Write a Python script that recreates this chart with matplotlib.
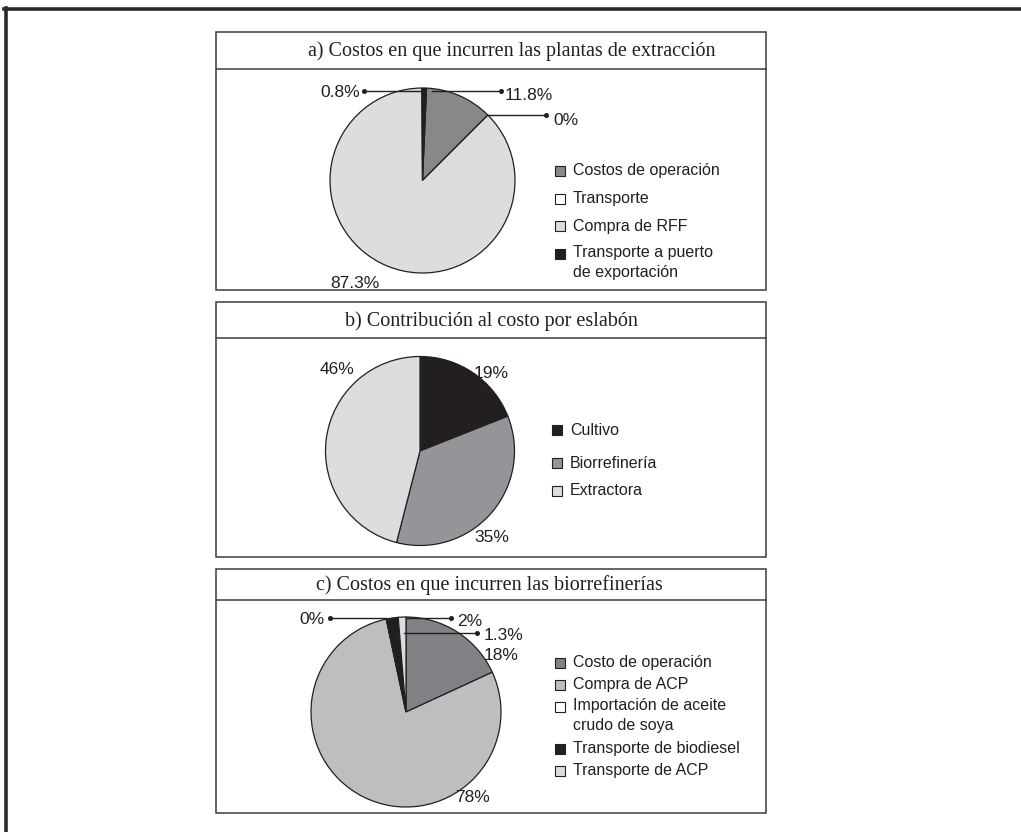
import matplotlib
matplotlib.use("Agg")
import matplotlib.pyplot as plt
from matplotlib.patches import Rectangle
from matplotlib.lines import Line2D
import numpy as np

W, H = 1021, 832
DPI = 100

# ---------------- data ----------------
titles = ["a) Costos en que incurren las plantas de extracción",
          "b) Contribución al costo por eslabón",
          "c) Costos en que incurren las biorrefinerías"]

cats_a = ["Costos de operación", "Transporte", "Compra de RFF",
          "Transporte a puerto\nde exportación"]
vals_a = [11.8, 0.0, 87.3, 0.8]
cols_a = ["#87888a", "#ffffff", "#dcdddf", "#231f20"]

cats_b = ["Cultivo", "Biorrefinería", "Extractora"]
vals_b = [19, 35, 46]
cols_b = ["#231f20", "#939598", "#dcdddf"]

cats_c = ["Costo de operación", "Compra de ACP",
          "Importación de aceite\ncrudo de soya",
          "Transporte de biodiesel", "Transporte de ACP"]
vals_c = [18, 78, 0.0, 2, 1.3]
cols_c = ["#808285", "#bcbec0", "#ffffff", "#231f20", "#dcdddf"]

EDGE = "#231f20"
SANS = ["Liberation Sans", "DejaVu Sans"]
SERIF = ["Liberation Serif", "DejaVu Serif"]

fig = plt.figure(figsize=(W / DPI, H / DPI), dpi=DPI)


def fx(px):
    return px / W


def fy(py):
    return 1 - py / H


def pct(v):
    return f"{v:g}%"


# outer frame (top and left edges only visible)
fig.add_artist(Line2D([fx(4), fx(W)], [fy(9), fy(9)], color="#2b2b2b", lw=2.6))
fig.add_artist(Line2D([fx(5.5), fx(5.5)], [fy(8), fy(H)], color="#2b2b2b", lw=2.6))

# panel frames: (top, separator, bottom, title centre x)
panels = [(32, 69, 290, 512), (302, 338, 557, 491), (569, 600, 813, 489)]
PL, PR = 216, 766
for (top, sep, bot, tcx), title in zip(panels, titles):
    fig.add_artist(Rectangle((fx(PL), fy(bot)), fx(PR) - fx(PL), fy(top) - fy(bot),
                             fill=False, edgecolor="#3c3c3c", lw=1.1))
    fig.add_artist(Line2D([fx(PL), fx(PR)], [fy(sep), fy(sep)], color="#3c3c3c", lw=1.1))
    fig.text(fx(tcx), fy((top + sep) / 2 + 1), title, ha="center", va="center",
             family=SERIF, fontsize=14.5, color="#231f20")


def make_pie(cx, cy, r, vals, cols, start=90):
    ax = fig.add_axes([fx(cx - r), fy(cy + r), 2 * r / W, 2 * r / H])
    wedges, _ = ax.pie(vals, colors=cols, startangle=start, counterclock=False,
                       wedgeprops=dict(edgecolor=EDGE, linewidth=0.9))
    ax.set_xlim(-1, 1)
    ax.set_ylim(-1, 1)
    ax.set_axis_off()
    return ax, wedges


def to_data(geom, px, py):
    cx, cy, r = geom
    return (px - cx) / r, (cy - py) / r


def pt(angle_deg, rad=1.0):
    a = np.deg2rad(angle_deg)
    return rad * np.cos(a), rad * np.sin(a)


def label(ax, geom, px, py, text, ha="left"):
    x, y = to_data(geom, px, py)
    ax.text(x, y, text, ha=ha, va="center", family=SANS, fontsize=12.5,
            color="#231f20", clip_on=False)


def leader(ax, geom, p_from, px_end):
    cx, cy, r = geom
    x0, y0 = p_from
    x1 = (px_end - cx) / r
    ax.plot([x0, x1], [y0, y0], color=EDGE, lw=1.0, clip_on=False)
    ax.plot([x1], [y0], marker="o", ms=2.6, color=EDGE, clip_on=False)


def legend(items, colors, x0, ys, fontsize=11.5):
    for lab, col, y in zip(items, colors, ys):
        fig.add_artist(Rectangle((fx(x0), fy(y + 5)), 10 / W, 10 / H,
                                 facecolor=col, edgecolor=EDGE, lw=0.8))
        if "\n" in lab:
            fig.text(fx(x0 + 18), fy(y - 9), lab, ha="left", va="top",
                     family=SANS, fontsize=fontsize, color="#231f20", linespacing=1.4)
        else:
            fig.text(fx(x0 + 18), fy(y), lab, ha="left", va="center",
                     family=SANS, fontsize=fontsize, color="#231f20")


mid = lambda w: (w.theta1 + w.theta2) / 2

# ---------------- panel a ----------------
ga = (422.5, 180.5, 92.5)
axa, wa = make_pie(*ga, vals_a, cols_a, start=87.5)
# 0.8% (black wedge)
p = pt(mid(wa[3]), 0.97)
leader(axa, ga, p, 364)
label(axa, ga, 360, ga[1] - p[1] * ga[2] + 2, pct(vals_a[3]), ha="right")
# 11.8%
p = pt(84, 0.97)
leader(axa, ga, p, 501)
label(axa, ga, 505, ga[1] - p[1] * ga[2] + 4, pct(vals_a[0]))
# 0%
p = pt(wa[1].theta1, 1.0)
leader(axa, ga, p, 546)
label(axa, ga, 553, ga[1] - p[1] * ga[2] + 5, pct(vals_a[1]))
# 87.3%
label(axa, ga, 330, 283, pct(vals_a[2]))
legend(cats_a, cols_a, 555, [171, 199, 226, 254])

# ---------------- panel b ----------------
gb = (420, 451, 94.5)
axb, wb = make_pie(*gb, vals_b, cols_b)
label(axb, gb, 320, 369, pct(vals_b[2]))
label(axb, gb, 474, 374, pct(vals_b[0]))
label(axb, gb, 474, 538, pct(vals_b[1]))
legend(cats_b, cols_b, 552, [430, 463, 491])

# ---------------- panel c ----------------
gc = (406, 712, 95)
axc, wc = make_pie(*gc, vals_c, cols_c)
# 0% import (boundary between ACP and biodiesel wedges)
p = pt(wc[2].theta1, 1.0)
p = (p[0], to_data(gc, 0, 618)[1])
leader(axc, gc, p, 330)
label(axc, gc, 324, 620, pct(vals_c[2]), ha="right")
# 2% biodiesel
p = (to_data(gc, 407, 0)[0], to_data(gc, 0, 618)[1])
leader(axc, gc, p, 451)
label(axc, gc, 457, 622, pct(vals_c[3]))
# 1.3% transporte ACP
p = (to_data(gc, 404, 0)[0], to_data(gc, 0, 633)[1])
leader(axc, gc, p, 477)
label(axc, gc, 484, 636, pct(vals_c[4]))
# 18%, 78%
label(axc, gc, 484, 656, pct(vals_c[0]))
label(axc, gc, 455, 798, pct(vals_c[1]))
legend(cats_c, cols_c, 555, [663, 685, 707, 749, 771])

fig.savefig("out.png", dpi=DPI, facecolor="white")
